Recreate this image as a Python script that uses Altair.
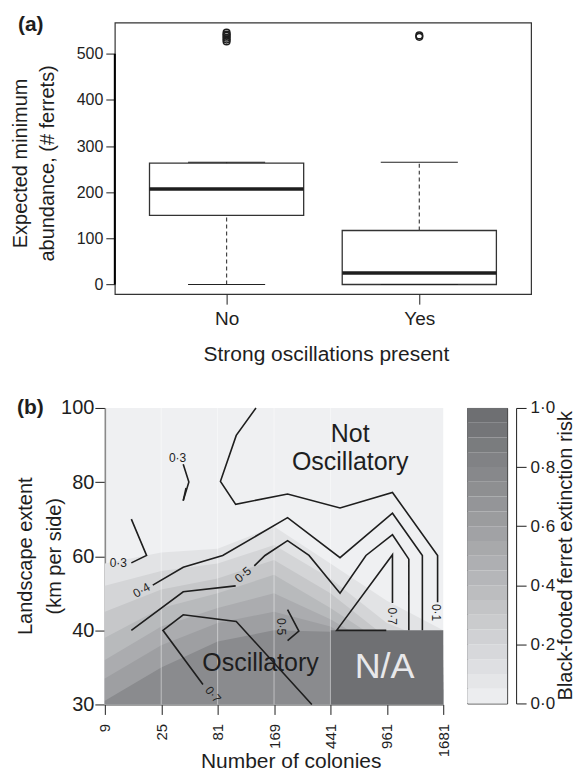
import altair as alt
import pandas as pd

FONT = "Liberation Sans"
INK = "#1e1e1e"

# ---------------- panel (a): box plot data ----------------
groups = ["No", "Yes"]
group_pos = [1, 2]
box_q1 = [150, 0]
box_median = [207, 25]
box_q3 = [263, 117]
whisker_low = [0, 0]
whisker_high = [265, 265]
outliers_no = [527, 531, 535, 539, 542, 546]
outliers_yes = [537, 540]
abund_ticks = [0, 100, 200, 300, 400, 500]

# ---------------- panel (b): contour plot data ----------------
colonies = [9, 25, 81, 169, 441, 961, 1681]
extents = [30, 40, 60, 80, 100]

# shading bands: for each risk level, upper edge (grid position of extent) at each colony column
shade_cols = [0, 1, 2, 3, 4, 5, 6]
shade_levels = [0.10, 0.20, 0.30, 0.40, 0.50, 0.60, 0.75]
shade_top_010 = [1.90, 2.05, 2.10, 2.40, 1.90, 1.40, 1.00]
shade_top_020 = [1.60, 1.80, 1.90, 2.15, 1.70, 1.10, 0.80]
shade_top_030 = [1.25, 1.55, 1.70, 1.95, 1.50, 0.90, 0.60]
shade_top_040 = [0.90, 1.30, 1.50, 1.75, 1.30, 0.80, 0.50]
shade_top_050 = [0.60, 1.05, 1.30, 1.50, 1.15, 0.70, 0.40]
shade_top_060 = [0.35, 0.80, 1.10, 1.25, 1.05, 0.60, 0.30]
shade_top_075 = [0.05, 0.50, 0.85, 1.00, 0.98, 0.50, 0.20]
shade_tops = [shade_top_010, shade_top_020, shade_top_030, shade_top_040,
              shade_top_050, shade_top_060, shade_top_075]

# N/A block (colony index 441..1681, extent 30..40)
na_block = {"x0": 4, "x1": 6, "y0": 0, "y1": 1}

# contour polylines (grid positions)
line_01_x = [2.68, 2.33, 2.05, 2.32, 3.24, 4.17, 5.10, 5.90, 5.90]
line_01_y = [4.00, 3.63, 3.01, 2.70, 2.84, 2.65, 2.86, 2.01, 1.38]
line_04_x = [0.85, 1.39, 2.09, 3.24, 4.17, 5.10, 5.63, 5.63]
line_04_y = [1.61, 1.85, 2.01, 2.52, 1.98, 2.58, 2.01, 1.00]
line_05a_x = [0.47, 1.39, 2.32]
line_05a_y = [1.00, 1.52, 1.60]
line_05b_x = [2.65, 2.84, 3.24, 3.62, 4.17, 4.63, 5.10, 5.39, 5.39]
line_05b_y = [1.87, 2.01, 2.21, 2.01, 1.50, 2.01, 2.29, 1.96, 1.00]
line_07r_x = [4.99, 4.11, 5.10, 5.10]
line_07r_y = [1.00, 1.00, 2.02, 1.37]
line_07l_x = [1.74, 1.03, 1.39, 2.33, 3.67]
line_07l_y = [0.27, 1.00, 1.21, 1.12, 0.00]
line_05s_x = [3.24, 3.44, 3.24]
line_05s_y = [1.28, 0.99, 0.86]
line_03l_x = [0.47, 0.74, 0.47]
line_03l_y = [1.91, 2.01, 2.50]
line_03u_x = [1.39, 1.49, 1.39]
line_03u_y = [3.24, 3.00, 2.75]
line_03h_x = [1.44, 1.39]
line_03h_y = [2.92, 2.75]

contour_label_text = ["0\u00b73", "0\u00b73", "0\u00b74", "0\u00b75", "0\u00b75", "0\u00b77", "0\u00b71", "0\u00b77"]
contour_label_x = [1.29, 0.24, 0.65, 2.45, 3.13, 5.10, 5.88, 1.92]
contour_label_y = [3.33, 1.91, 1.54, 1.75, 1.05, 1.19, 1.24, 0.135]
contour_label_angle = [0, 0, 330, 320, 90, 90, 90, 50]

# colour bar
risk_bands = [0.00, 0.05, 0.10, 0.15, 0.20, 0.25, 0.30, 0.35, 0.40, 0.45,
              0.50, 0.55, 0.60, 0.65, 0.70, 0.75, 0.80, 0.85, 0.90, 0.95]
risk_band_step = 0.05
risk_ticks = [0.0, 0.2, 0.4, 0.6, 0.8, 1.0]


def one_row():
    return alt.Data(values=[{}])


def label(text, x, y, size=21, angle=0, weight="normal", align="center", baseline="alphabetic",
          color=INK):
    return alt.Chart(one_row()).mark_text(
        text=text, fontSize=size, fontWeight=weight, align=align, baseline=baseline,
        color=color, angle=angle
    ).encode(x=alt.value(x), y=alt.value(y))


def pin(x1, y1, x2, y2):
    return alt.Chart(one_row()).mark_rule(opacity=0).encode(
        x=alt.value(x1), y=alt.value(y1), x2=alt.value(x2), y2=alt.value(y2))


def spacer():
    return alt.Chart(one_row()).mark_rule(opacity=0).encode(
        x=alt.value(0), y=alt.value(0), y2=alt.value(1)
    ).properties(width=1, height=1, view=alt.ViewBackground(strokeWidth=0))


# ================= panel (a) =================
box_df = pd.DataFrame({"group": groups, "pos": group_pos, "q1": box_q1, "med": box_median,
                       "q3": box_q3, "lo": whisker_low, "hi": whisker_high})
out_df = pd.DataFrame({
    "pos": [group_pos[0]] * len(outliers_no) + [group_pos[1]] * len(outliers_yes),
    "val": outliers_no + outliers_yes,
})
axis_line_df = pd.DataFrame({"lo": [abund_ticks[0]], "hi": [abund_ticks[-1]]})

xs_a = alt.Scale(domain=[0.42, 2.58], nice=False, zero=False)
ys_a = alt.Scale(domain=[-21, 567.7], nice=False, zero=False)
grp_js = "[" + ",".join("'%s'" % g for g in groups) + "][datum.value - 1]"

ax_xa = alt.Axis(values=group_pos, labelExpr=grp_js, title="",
                 grid=False, domain=False, tickSize=10, tickColor=INK, tickWidth=1,
                 labelFontSize=19, labelColor=INK, labelPadding=5)
ax_ya = alt.Axis(values=abund_ticks, title="",
                 grid=False, domain=False, tickSize=9, tickColor=INK, tickWidth=1,
                 labelFontSize=16, labelColor=INK, labelPadding=3)


def XA(f):
    return alt.X(f, type="quantitative", scale=xs_a, axis=ax_xa)


def YA(f):
    return alt.Y(f, type="quantitative", scale=ys_a, axis=ax_ya)


box_base = alt.Chart(box_df).transform_calculate(
    xl="datum.pos - 0.4", xr="datum.pos + 0.4", cl="datum.pos - 0.2", cr="datum.pos + 0.2")

boxes = box_base.mark_rect(fill="white", stroke="#333333", strokeWidth=1.3).encode(
    x=XA("xl"), x2="xr", y=YA("q1"), y2="q3")
medians = box_base.mark_rule(color=INK, strokeWidth=3.5).encode(x=XA("xl"), x2="xr", y=YA("med"))
whisk_up = box_base.mark_rule(color="#444444", strokeDash=[4, 3], strokeWidth=1.2).encode(
    x=XA("pos"), y=YA("q3"), y2="hi")
whisk_lo = box_base.mark_rule(color="#444444", strokeDash=[4, 3], strokeWidth=1.2).encode(
    x=XA("pos"), y=YA("lo"), y2="q1")
cap_up = box_base.mark_rule(color="#222222", strokeWidth=1.2).encode(x=XA("cl"), x2="cr", y=YA("hi"))
cap_lo = box_base.mark_rule(color="#222222", strokeWidth=1.2).encode(x=XA("cl"), x2="cr", y=YA("lo"))
outl = alt.Chart(out_df).mark_point(shape="circle", filled=False, size=45, color=INK,
                                    strokeWidth=1.5, opacity=1).encode(x=XA("pos"), y=YA("val"))
yline = alt.Chart(axis_line_df).mark_rule(color="#000000", strokeWidth=2).encode(
    x=alt.value(0), y=YA("lo"), y2="hi")

panel_a = alt.layer(
    boxes, whisk_up, whisk_lo, cap_up, cap_lo, medians, outl, yline,
    label("(a)", -97, 8, weight="bold", align="left"),
    label("Expected minimum", -94, 141, size=20, angle=270, baseline="middle"),
    label("abundance, (# ferrets)", -67, 141, size=20, angle=270, baseline="middle"),
    label("Strong oscillations present", 212, 339),
    pin(-105, -13, 0, 359),
).properties(width=417, height=272,
             view=alt.ViewBackground(stroke="#333333", strokeWidth=1.2, fill="white"))

# ================= panel (b) =================
risk_scale = alt.Scale(domain=[0, 1], range=["#f0f1f3", "#6b6c6f"])

xs_b = alt.Scale(domain=[0, len(colonies) - 1], nice=False, zero=False)
ys_b = alt.Scale(domain=[0, len(extents) - 1], nice=False, zero=False)
col_js = "[" + ",".join(str(c) for c in colonies) + "][datum.value]"
ext_js = "[" + ",".join(str(e) for e in extents) + "][datum.value]"

ax_xb = alt.Axis(values=list(range(len(colonies))), labelExpr=col_js, labelAngle=270,
                 title="", grid=False, domain=True, domainColor="#444444",
                 domainWidth=1.2, tickSize=10, tickColor=INK, labelFontSize=15, labelColor=INK,
                 labelPadding=9)
ax_yb = alt.Axis(values=list(range(len(extents))), labelExpr=ext_js,
                 title="", grid=False, domain=True,
                 domainColor="#8a8a8a", domainWidth=1.6, tickSize=10, tickColor=INK,
                 labelFontSize=20, labelColor=INK, labelPadding=1)


def XB(f):
    return alt.X(f, type="quantitative", scale=xs_b, axis=ax_xb)


def YB(f):
    return alt.Y(f, type="quantitative", scale=ys_b, axis=ax_yb)


shade_rows = []
for lv, tops in zip(shade_levels, shade_tops):
    for cx, ty in zip(shade_cols, tops):
        shade_rows.append({"level": lv, "x": cx, "top": ty, "base": 0})
shade_df = pd.DataFrame(shade_rows)

shade_layers = []
for lv in shade_levels:
    shade_layers.append(
        alt.Chart(shade_df).transform_filter("datum.level == %s" % lv).mark_area(
            interpolate="linear", opacity=1
        ).encode(x=XB("x"), y=YB("top"), y2="base",
                 color=alt.Color("level:Q", scale=risk_scale, legend=None))
    )

na_layer = alt.Chart(pd.DataFrame([na_block])).mark_rect(color="#6f7073").encode(
    x=XB("x0"), x2="x1", y=YB("y0"), y2="y1")

grid_df = pd.DataFrame({"x": list(range(1, 5))})
grid_layer = alt.Chart(grid_df).mark_rule(color="white", opacity=0.45, strokeWidth=1).encode(
    x=XB("x"), y=alt.value(0), y2=alt.value(297))

lines = [
    ("01", line_01_x, line_01_y), ("04", line_04_x, line_04_y),
    ("05a", line_05a_x, line_05a_y), ("05b", line_05b_x, line_05b_y),
    ("07r", line_07r_x, line_07r_y), ("07l", line_07l_x, line_07l_y),
    ("05s", line_05s_x, line_05s_y), ("03l", line_03l_x, line_03l_y),
    ("03u", line_03u_x, line_03u_y), ("03h", line_03h_x, line_03h_y),
]
line_rows = []
for name, xs, ys in lines:
    for i, (a, b) in enumerate(zip(xs, ys)):
        line_rows.append({"line": name, "order": i, "x": a, "y": b})
line_df = pd.DataFrame(line_rows)
contour_layer = alt.Chart(line_df).mark_line(color=INK, strokeWidth=1.6).encode(
    x=XB("x"), y=YB("y"), detail="line:N", order="order:Q")

clab_df = pd.DataFrame({"x": contour_label_x, "y": contour_label_y,
                        "t": contour_label_text, "a": contour_label_angle})
clab_layer = alt.Chart(clab_df).mark_text(fontSize=12, color=INK, align="center",
                                          baseline="middle").encode(
    x=XB("x"), y=YB("y"), text="t:N", angle=alt.Angle("a:Q", scale=None))

notosc_df = pd.DataFrame({"x": [4.35, 4.35], "y": [3.54, 3.16], "t": ["Not", "Oscillatory"]})
notosc_layer = alt.Chart(notosc_df).mark_text(fontSize=25, color=INK, align="center",
                                              baseline="alphabetic").encode(
    x=XB("x"), y=YB("y"), text="t:N")
osc_df = pd.DataFrame({"x": [2.76], "y": [0.45], "t": ["Oscillatory"]})
osc_layer = alt.Chart(osc_df).mark_text(fontSize=25, color=INK, align="center",
                                        baseline="alphabetic").encode(
    x=XB("x"), y=YB("y"), text="t:N")
na_df = pd.DataFrame({"x": [4.96], "y": [0.36], "t": ["N/A"]})
na_text = alt.Chart(na_df).mark_text(fontSize=36, color="#e8e8ea", align="center",
                                     baseline="alphabetic").encode(
    x=XB("x"), y=YB("y"), text="t:N")

panel_b = alt.layer(
    *shade_layers, na_layer, grid_layer, contour_layer, clab_layer,
    notosc_layer, osc_layer, na_text,
    label("(b)", -88, 6, weight="bold", align="left"),
    label("Landscape extent", -79, 148.5, size=20, angle=270, baseline="middle"),
    label("(km per side)", -50, 148.5, size=20, angle=270, baseline="middle"),
    label("Number of colonies", 186.7, 361),
    pin(-96, -25, 350, 363),
).properties(width=339, height=297,
             view=alt.ViewBackground(fill="#eff0f2", strokeWidth=0))

# colour bar
band_df = pd.DataFrame({"low": risk_bands})
cb_axis = alt.Axis(orient="right", values=risk_ticks,
                   labelExpr="replace(format(datum.value, '.1f'), '.', '\u00b7')",
                   offset=9, grid=False, domain=True, domainColor=INK, domainWidth=1,
                   tickSize=10, tickColor=INK, labelFontSize=17, labelColor=INK, labelPadding=4,
                   title="")
cbar = alt.Chart(band_df).transform_calculate(
    high="datum.low + %s" % risk_band_step, mid="datum.low + %s" % (risk_band_step / 2)
).mark_rect().encode(
    x=alt.value(0), x2=alt.value(40),
    y=alt.Y("low:Q", scale=alt.Scale(domain=[0, 1], nice=False, zero=False), axis=cb_axis),
    y2="high:Q",
    color=alt.Color("mid:Q", scale=risk_scale, legend=None))
colorbar = alt.layer(
    cbar,
    label("Black-footed ferret extinction risk", 99, 148, size=20, angle=270, baseline="middle"),
    pin(-11.7, -25, 40, 363),
).properties(width=40, height=296,
             view=alt.ViewBackground(stroke="#333333", strokeWidth=1))

top_row = alt.hconcat(spacer(), panel_a, spacing=0)
bottom_row = alt.hconcat(spacer(), panel_b, colorbar, spacing=0)
chart = alt.vconcat(top_row, bottom_row, spacing=0).properties(padding=0).configure(
    font=FONT
).configure_axis(labelFont=FONT, titleFont=FONT).configure_text(font=FONT)

chart.save("out.html", embed_options={"renderer": "svg", "actions": False})
